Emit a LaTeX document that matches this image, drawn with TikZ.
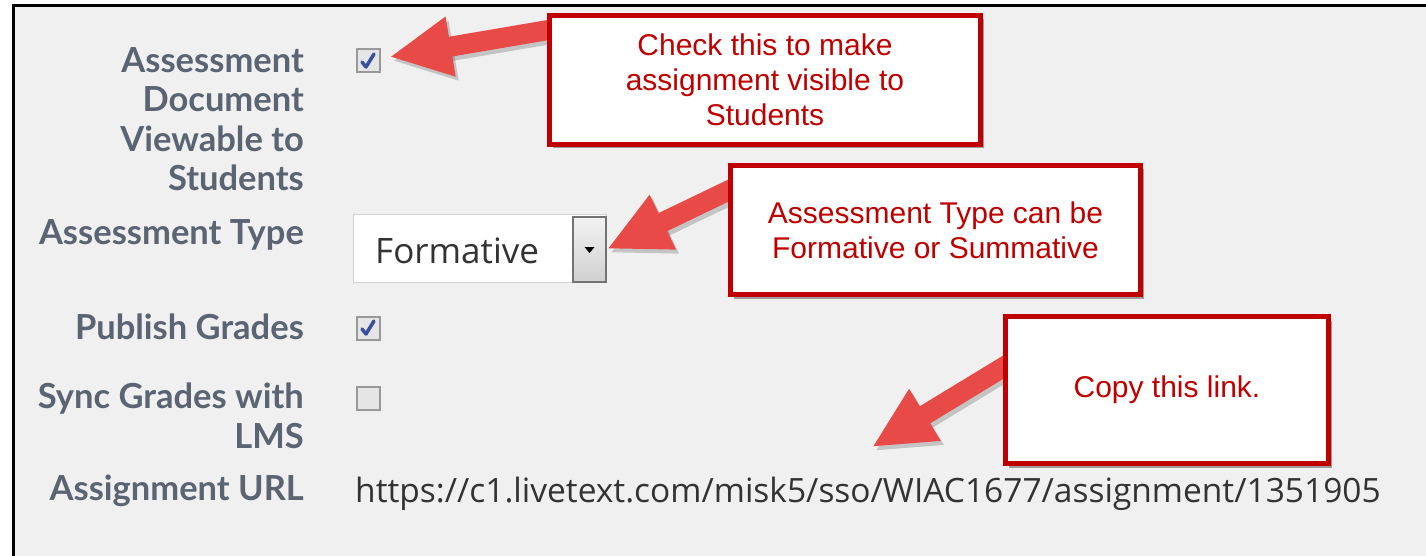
\documentclass[tikz,border=0pt]{standalone}
\usepackage{fontspec}
\setmainfont{Liberation Sans}
\newfontfamily\labelfont{Lato}
\newfontfamily\fieldfont{Open Sans}
\newfontfamily\calloutfont{Liberation Sans}
\usetikzlibrary{arrows.meta,shadows,calc}
\definecolor{bgc}{HTML}{F0F0F0}
\definecolor{labc}{HTML}{5A6472}
\definecolor{redc}{HTML}{C00000}
\definecolor{arrc}{HTML}{E84B47}
\definecolor{chkc}{HTML}{3B4FA0}
\definecolor{fieldtxt}{HTML}{333333}
\tikzset{
  fieldlabel/.style={anchor=east, align=right, inner sep=0pt, text=labc,
    font=\labelfont\bfseries\fontsize{34.5}{39.5}\selectfont},
  callout/.style={draw=redc, line width=5pt, fill=white, align=center, inner sep=0pt,
    text=redc, font=\calloutfont\fontsize{30}{35}\selectfont,
    drop shadow={shadow xshift=3pt, shadow yshift=-4pt, opacity=0.35, fill=black}},
  checkbox/.style={draw=black!40, line width=2pt, fill=black!10, minimum width=23pt,
    minimum height=23pt, inner sep=0pt},
  checkmark/.style={chkc, line width=3.5pt, line cap=round, line join=round},
  bigarrow/.style={arrc, line width=20pt, -{Triangle[width=56pt,length=62pt]}},
  arrowshadow/.style={black, opacity=0.18, line width=20pt, -{Triangle[width=56pt,length=62pt]}},
  fieldtext/.style={inner sep=0pt, text=fieldtxt, font=\fieldfont\fontsize{33.5}{38}\selectfont}
}
\begin{document}
\begin{tikzpicture}[x=1pt,y=-1pt]
\useasboundingbox (0,0) rectangle (1426,556);
\fill[white] (0,0) rectangle (1426,556);
\fill[bgc] (13,5.5) rectangle (1426,556);
\draw[line width=3pt] (13,556) -- (13,5.5) -- (1426,5.5);

% labels
\node[fieldlabel] (l1) at (304,119) {Assessment\\Document\\Viewable to\\Students};
\node[fieldlabel] (l2) at (304,235) {Assessment Type};
\node[fieldlabel] (l3) at (304,327) {Publish Grades};
\node[fieldlabel] (l4) at (304,416) {Sync Grades with\\LMS};
\node[fieldlabel] (l5) at (304,491) {Assignment URL};

% checkboxes
\node[checkbox] (cb1) at (368,61) {};
\draw[checkmark] ($(cb1.center)+(-6,1)$) -- ($(cb1.center)+(-2,6)$) -- ($(cb1.center)+(6,-7)$);
\node[checkbox] (cb2) at (368,328) {};
\draw[checkmark] ($(cb2.center)+(-6,1)$) -- ($(cb2.center)+(-2,6)$) -- ($(cb2.center)+(6,-7)$);
\node[checkbox] (cb3) at (368,398) {};

% dropdown
\node[draw=black!18, line width=1.5pt, fill=white, minimum width=253pt, minimum height=68pt, inner sep=0pt] (dd) at (480,248.5) {};
\node[fieldtext, anchor=west, font=\fieldfont\fontsize{35}{40}\selectfont] (ddtext) at (375,251) {Formative};
\node[draw=black!55, line width=2pt, top color=black!5, bottom color=black!18, minimum width=33pt, minimum height=65pt, inner sep=0pt] (ddbtn) at (589.5,249) {};
\fill[black] ($(ddbtn.center)+(-5,-2)$) -- ($(ddbtn.center)+(5,-2)$) -- ($(ddbtn.center)+(0,4)$) -- cycle;

% URL
\node[fieldtext, anchor=west] (url) at (355,494) {https://c1.livetext.com/misk5/sso/WIAC1677/assignment/1351905};

% arrow tails
\coordinate (t1) at (560,28);
\coordinate (t2) at (740,185);
\coordinate (t3) at (1015,360);

% arrow shadows
\draw[arrowshadow] ($(t1)+(3,4)$) -- ($(cb1.east)+(12,0)$);
\draw[arrowshadow] ($(t2)+(3,4)$) -- ($(ddbtn.east)+(3,4)$);
\draw[arrowshadow] ($(t3)+(3,4)$) -- ($(url.north west)+(520,-26)$);
% arrows
\draw[bigarrow] (t1) -- ($(cb1.east)+(9,-4)$);
\draw[bigarrow] (t2) -- (ddbtn.east);
\draw[bigarrow] (t3) -- ($(url.north west)+(517,-30)$);

% callouts
\node[callout, minimum width=431pt, minimum height=129pt] (c1) at (765,80)
  {Check this to make\\assignment visible to\\Students};
\node[callout, minimum width=410pt, minimum height=129pt] (c2) at (935.5,230)
  {Assessment Type can be\\Formative or Summative};
\node[callout, minimum width=323pt, minimum height=147pt] (c3) at (1167,390)
  {Copy this link.};
\end{tikzpicture}
\end{document}
